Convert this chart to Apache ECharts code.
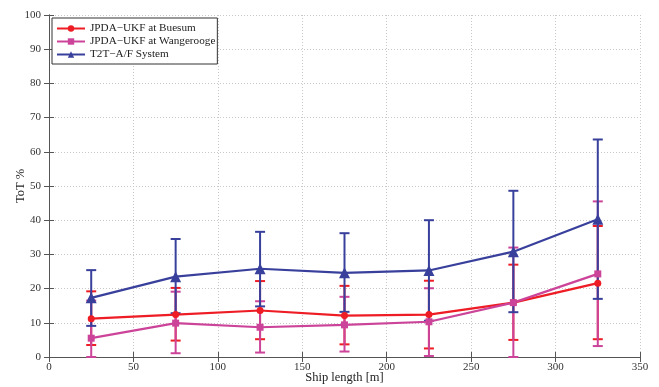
<!DOCTYPE html>
<html>
<head>
<meta charset="utf-8">
<script src="https://cdn.jsdelivr.net/npm/echarts@6/dist/echarts.min.js"></script>
<style>
  html, body { margin: 0; padding: 0; background: #fff; }
  #chart { width: 659px; height: 387px; }
</style>
</head>
<body>
<div id="chart"></div>
<script>
const shipLength = [25, 75, 125, 175, 225, 275, 325];

const buesumMean = [11.2, 12.4, 13.6, 12.1, 12.4, 15.9, 21.6];
const buesumLow = [3.5, 4.8, 5.2, 3.7, 2.5, 5.0, 5.2];
const buesumHigh = [19.2, 20.2, 22.2, 20.8, 22.3, 27.0, 38.3];

const wangMean = [5.5, 9.9, 8.7, 9.4, 10.3, 15.9, 24.3];
const wangLow = [0, 1.1, 1.3, 1.6, 0.3, 0, 3.2];
const wangHigh = [16.5, 19.1, 16.3, 17.6, 20.1, 32.0, 45.5];

const t2tMean = [17.3, 23.5, 25.8, 24.6, 25.3, 30.8, 40.3];
const t2tLow = [9.1, 12.8, 14.8, 13.2, 10.6, 13.1, 17.0];
const t2tHigh = [25.4, 34.5, 36.6, 36.2, 40.0, 48.6, 63.6];

const names = ['JPDA\u2212UKF at Buesum', 'JPDA\u2212UKF at Wangerooge', 'T2T\u2212A/F System'];
const colors = ['#ee1c24', '#cc4499', '#38409c'];
const serif = 'Liberation Serif';

const pairs = (ys) => shipLength.map((x, i) => [x, ys[i]]);
const bars = (lo, hi) => shipLength.map((x, i) => [x, lo[i], hi[i]]);

// vertical error bar with caps
const errorBar = (color) => (params, api) => {
  const x = api.value(0);
  const lo = api.coord([x, api.value(1)]);
  const hi = api.coord([x, api.value(2)]);
  const hw = 5;
  const st = { stroke: color, lineWidth: 2 };
  return {
    type: 'group',
    children: [
      { type: 'line', shape: { x1: lo[0], y1: lo[1], x2: hi[0], y2: hi[1] }, style: st },
      { type: 'line', shape: { x1: lo[0] - hw, y1: lo[1], x2: lo[0] + hw, y2: lo[1] }, style: st },
      { type: 'line', shape: { x1: hi[0] - hw, y1: hi[1], x2: hi[0] + hw, y2: hi[1] }, style: st }
    ]
  };
};

const lineSeries = (i, data, symbol, size) => ({
  name: names[i],
  type: 'line',
  data: pairs(data),
  symbol: symbol,
  symbolSize: size,
  color: colors[i],
  lineStyle: { width: 2.2, color: colors[i] },
  itemStyle: { color: colors[i] },
  z: 3
});

const errSeries = (i, lo, hi) => ({
  type: 'custom',
  renderItem: errorBar(colors[i]),
  data: bars(lo, hi),
  encode: { x: 0, y: [1, 2] },
  z: 2
});

const chart = echarts.init(document.getElementById('chart'));

const axisCommon = {
  axisLine: { lineStyle: { color: '#555', width: 1 } },
  axisTick: { inside: true, length: 5, lineStyle: { color: '#555' } },
  axisLabel: { fontFamily: serif, fontSize: 11, color: '#333' }
};

chart.setOption({
  backgroundColor: '#fff',
  animation: false,
  grid: { left: 49, right: 19, top: 15, bottom: 30, outerBoundsMode: 'none' },
  legend: {
    data: names,
    orient: 'vertical',
    left: 52,
    top: 18,
    itemWidth: 28,
    itemHeight: 8,
    itemGap: 2,
    padding: [5, 2, 4, 4],
    borderColor: '#333',
    borderWidth: 1,
    backgroundColor: '#fff',
    textStyle: { fontFamily: serif, fontSize: 11.2, color: '#222' }
  },
  xAxis: [
    Object.assign({}, axisCommon, {
      type: 'value', min: 0, max: 350, interval: 50,
      name: 'Ship length [m]', nameLocation: 'middle', nameGap: 14, nameMoveOverlap: false,
      nameTextStyle: { fontFamily: serif, fontSize: 12.5, color: '#222' },
      axisLabel: { fontFamily: serif, fontSize: 11, color: '#333', margin: 5 },
      splitLine: { show: true, lineStyle: { type: [1, 2], color: '#c8c8c8' } }
    }),
    Object.assign({}, axisCommon, {
      type: 'value', min: 0, max: 350, interval: 50, position: 'top',
      axisLabel: { show: false }, splitLine: { show: false }
    })
  ],
  yAxis: [
    Object.assign({}, axisCommon, {
      type: 'value', min: 0, max: 100, interval: 10,
      name: 'ToT %', nameLocation: 'middle', nameGap: 22, nameMoveOverlap: false,
      nameTextStyle: { fontFamily: serif, fontSize: 12.5, color: '#222' },
      splitLine: { show: true, lineStyle: { type: [1, 2], color: '#c8c8c8' } }
    }),
    Object.assign({}, axisCommon, {
      type: 'value', min: 0, max: 100, interval: 10, position: 'right',
      axisLabel: { show: false }, splitLine: { show: false }
    })
  ],
  series: [
    errSeries(0, buesumLow, buesumHigh),
    errSeries(1, wangLow, wangHigh),
    errSeries(2, t2tLow, t2tHigh),
    lineSeries(0, buesumMean, 'circle', 7),
    lineSeries(1, wangMean, 'rect', 7),
    lineSeries(2, t2tMean, 'triangle', 11)
  ]
});
</script>
</body>
</html>
